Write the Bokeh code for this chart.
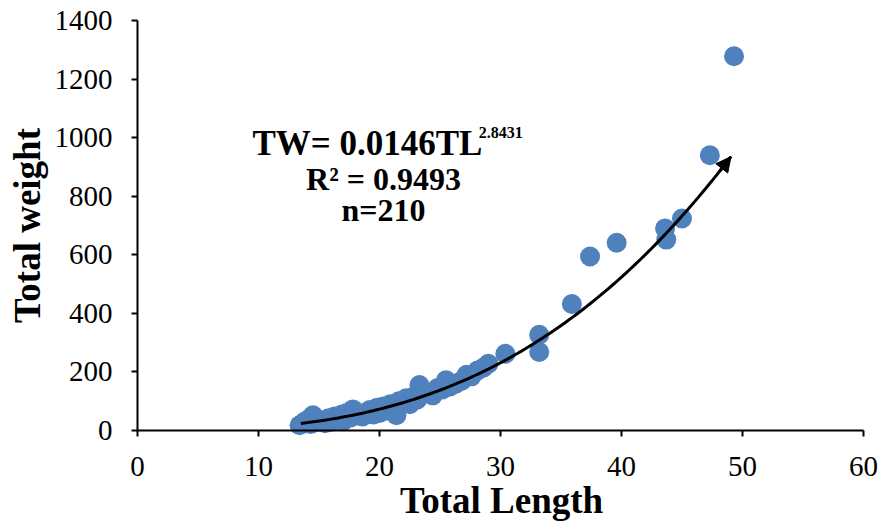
import math
import numpy as np
from bokeh.plotting import figure
from bokeh.models import Range1d, Label, Arrow, NormalHead, FixedTicker, ColumnDataSource, LinearAxis
from bokeh.embed import file_html
from bokeh.resources import INLINE

# ---- data ----
total_length = [13.4, 13.8, 14.2, 14.5, 14.3, 14.8, 15.2, 15.5, 15.8, 16.0, 16.3, 16.6,
                16.9, 17.0, 17.3, 17.6, 17.8, 18.0, 18.3, 18.6, 18.9, 19.2, 19.5, 19.8,
                20.0, 20.3, 20.6, 20.9, 21.2, 21.4, 21.6, 21.9, 22.2, 22.5, 22.8, 23.1,
                23.3, 23.6, 24.0, 24.4, 24.8, 25.2, 25.5, 25.8, 26.3, 26.8, 27.2, 27.6,
                28.1, 28.6, 29.0, 30.4, 33.2, 33.2, 35.9, 37.4, 39.6, 43.6, 43.7, 45.0,
                47.3, 49.3]
total_weight = [18, 30, 40, 52, 22, 28, 35, 25, 42, 30, 48, 38,
                55, 32, 60, 45, 72, 50, 58, 48, 62, 70, 55, 78,
                60, 82, 68, 90, 75, 52, 100, 95, 110, 90, 115, 105,
                155, 125, 130, 120, 145, 140, 172, 150, 160, 170, 190, 185,
                205, 215, 228, 262, 327, 268, 432, 594, 641, 690, 652, 724,
                940, 1278]

fit_a = 0.0146
fit_b = 2.8431
fit_tl_start = 13.5
fit_tl_end = 49.05

x_ticks = [0, 10, 20, 30, 40, 50, 60]
y_ticks = [0, 200, 400, 600, 800, 1000, 1200, 1400]
x_tick_labels = ["0", "10", "20", "30", "40", "50", "60"]
y_tick_labels = ["0", "200", "400", "600", "800", "1000", "1200", "1400"]

x_title = "Total Length"
y_title = "Total weight"
eq_main = "TW= 0.0146TL"
eq_exp = "2.8431"
eq_r2 = "R\u00b2 = 0.9493"
eq_n = "n=210"

FONT = "Liberation Serif"

# ---- layout: the frame fills the canvas; axes sit at data 0 ----
W, H = 878, 522
PX_LEFT, PX_RIGHT = 137, 863      # screen x of data 0 and 60
PX_BOTTOM, PX_TOP = 430, 20       # screen y of data 0 and 1400
sx = (PX_RIGHT - PX_LEFT) / 60.0
sy = (PX_BOTTOM - PX_TOP) / 1400.0
x_lo = -PX_LEFT / sx
x_hi = x_lo + W / sx
y_hi = 1400 + PX_TOP / sy
y_lo = y_hi - H / sy

p = figure(width=W, height=H, output_backend="svg", toolbar_location=None,
           x_range=Range1d(x_lo, x_hi), y_range=Range1d(y_lo, y_hi), title=None,
           x_axis_location=None, y_axis_location=None,
           min_border=0, min_border_left=0, min_border_right=0,
           min_border_top=0, min_border_bottom=0)
p.outline_line_color = None
p.xgrid.visible = False
p.ygrid.visible = False
p.background_fill_color = "white"
p.border_fill_color = "white"


def make_axis(ticks, bounds):
    ax = LinearAxis(ticker=FixedTicker(ticks=ticks), fixed_location=0, bounds=bounds)
    ax.axis_line_color = "black"
    ax.axis_line_width = 2
    ax.major_tick_line_color = "black"
    ax.major_tick_line_width = 2
    ax.major_tick_out = 6
    ax.major_tick_in = 0
    ax.minor_tick_line_color = None
    ax.major_label_text_color = None
    return ax


p.add_layout(make_axis(x_ticks, (0, 60)), "below")
p.add_layout(make_axis(y_ticks, (0, 1400)), "left")

# tick labels (serif, as in the reference)
x_lab_y = -(466 - PX_BOTTOM) / sy
for t, s in zip(x_ticks, x_tick_labels):
    p.add_layout(Label(x=t, y=x_lab_y, text=s, text_font=FONT, text_font_size="29px",
                       text_color="black", text_align="center",
                       text_baseline="alphabetic"))
y_lab_x = (112 - PX_LEFT) / sx
for t, s in zip(y_ticks, y_tick_labels):
    p.add_layout(Label(x=y_lab_x, y=t, text=s, text_font=FONT, text_font_size="29px",
                       text_color="black", text_align="right",
                       text_baseline="middle"))

# axis titles
p.add_layout(Label(x=(27 - PX_LEFT) / sx, y=(PX_BOTTOM - 225) / sy, text=y_title,
                   angle=math.pi / 2, angle_units="rad",
                   text_font=FONT, text_font_style="bold", text_font_size="37px",
                   text_color="black", text_align="center", text_baseline="alphabetic"))
p.add_layout(Label(x=(501 - PX_LEFT) / sx, y=-(500 - PX_BOTTOM) / sy, text=x_title,
                   text_font=FONT, text_font_style="bold", text_font_size="37px",
                   text_color="black", text_align="center", text_baseline="alphabetic"))

src = ColumnDataSource(data=dict(tl=total_length, tw=total_weight))
p.scatter("tl", "tw", source=src, size=20, fill_color="#4F81BD",
          line_color=None)

xs = np.linspace(fit_tl_start, fit_tl_end, 120)
ys = fit_a * xs ** fit_b
p.line(xs, ys, line_color="black", line_width=3)
p.add_layout(Arrow(end=NormalHead(size=15, fill_color="black", line_color="black"),
                   x_start=xs[-4], y_start=ys[-4], x_end=xs[-1], y_end=ys[-1],
                   line_color="black", line_width=3))

p.add_layout(Label(x=9.5, y=980, text=eq_main, text_font=FONT, text_font_style="bold",
                   text_font_size="35px", text_color="black", text_align="left",
                   text_baseline="alphabetic"))
p.add_layout(Label(x=28.2, y=1019, text=eq_exp, text_font=FONT, text_font_style="bold",
                   text_font_size="16px", text_color="black", text_align="left",
                   text_baseline="alphabetic"))
p.add_layout(Label(x=20.33, y=860, text=eq_r2, text_font=FONT, text_font_style="bold",
                   text_font_size="32px", text_color="black", text_align="center",
                   text_baseline="alphabetic"))
p.add_layout(Label(x=20.33, y=754, text=eq_n, text_font=FONT, text_font_style="bold",
                   text_font_size="32px", text_color="black", text_align="center",
                   text_baseline="alphabetic"))

open("out.html", "w").write(file_html(p, INLINE))
